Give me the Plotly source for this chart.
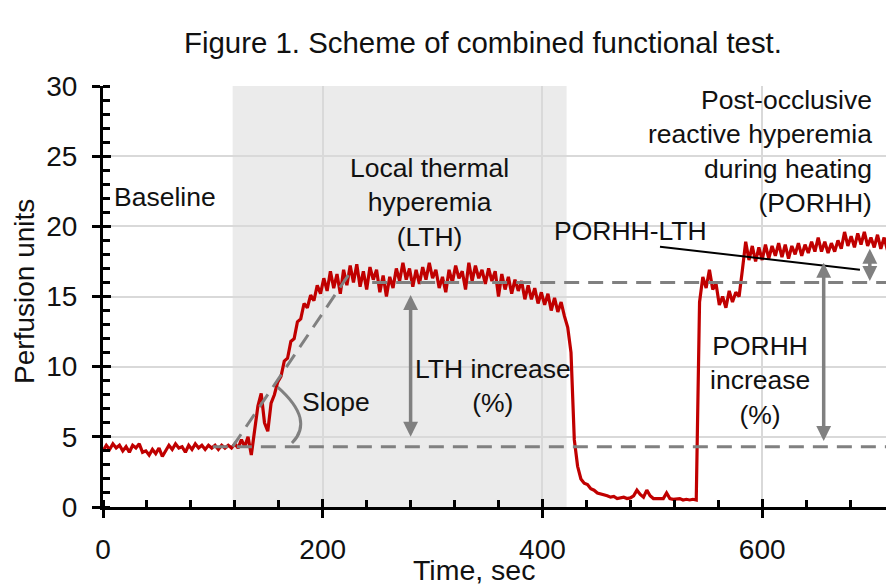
import plotly.graph_objects as go

# perfusion trace (3 s steps)
time_s = list(range(0, 723, 3))
perfusion = [
    # baseline 0-117 s
    4.0, 4.4, 4.1, 4.5, 4.2, 4.4, 4.0, 4.3, 3.9, 4.4,
    4.2, 4.5, 3.9, 4.0, 3.7, 4.1, 3.8, 4.2, 3.6, 4.0,
    4.4, 4.1, 4.5, 4.2, 4.3, 3.9, 4.4, 4.1, 4.5, 4.2,
    4.4, 4.1, 4.4, 4.2, 4.4, 4.1, 4.4, 4.2, 4.4, 4.2,
    # heating onset 120-210 s
    4.5, 4.2, 4.8, 4.3, 5.0, 3.7, 5.4, 7.2, 8.1, 6.0,
    5.4, 7.4, 8.0, 8.9, 9.3, 10.4, 10.6, 11.8, 12.0, 13.2,
    13.4, 14.5, 14.2, 15.1, 14.7, 15.8, 15.2, 16.3, 15.4, 16.8,
    15.6,
    # LTH plateau 213-420 s
    16.6, 15.2, 16.9, 15.8, 17.2, 16.0, 17.3, 15.7, 16.8, 15.5,
    17.1, 16.2, 16.9, 15.3, 16.5, 15.0, 16.4, 15.6, 17.0, 16.1,
    17.4, 16.2, 17.0, 15.7, 16.9, 15.9, 17.1, 16.2, 17.4, 16.3,
    16.9, 15.6, 16.4, 15.3, 16.9, 16.0, 17.2, 16.3, 16.8, 15.5,
    17.4, 16.1, 17.2, 16.3, 16.9, 15.9, 17.0, 16.1, 16.8, 15.0,
    16.6, 15.5, 16.4, 15.2, 16.2, 15.4, 16.1, 14.8, 15.8, 14.8,
    15.6, 14.5, 15.3, 14.4, 15.2, 14.0, 14.9, 13.9, 14.6, 13.6,
    # occlusion 423-540 s
    12.8, 11.0, 4.8, 2.9, 2.0, 1.7, 1.6, 1.3, 1.2, 1.0,
    0.95, 0.85, 0.8, 0.7, 0.75, 0.6, 0.65, 0.7, 0.6, 0.65,
    0.8, 1.2, 0.9, 0.7, 1.2, 0.8, 0.6, 0.6, 0.65, 0.6,
    1.0, 0.6, 0.55, 0.55, 0.6, 0.5, 0.55, 0.5, 0.55, 0.5,
    # PORHH 543-720 s
    14.6, 16.4, 15.6, 16.9, 15.5, 15.9, 14.4, 15.0, 14.2, 15.4,
    14.6, 15.3, 15.0, 16.9, 18.9, 17.6, 18.6, 17.5, 18.5, 17.6,
    18.7, 17.7, 18.6, 17.9, 18.8, 17.8, 18.7, 17.7, 18.6, 18.0,
    18.8, 17.9, 18.7, 18.1, 18.9, 18.2, 19.2, 18.2, 18.9, 18.1,
    18.8, 18.2, 19.0, 18.4, 19.6, 18.6, 19.3, 18.5, 19.5, 18.7,
    19.6, 18.6, 19.2, 18.5, 19.4, 18.4, 19.2, 18.3, 18.9, 18.0,
]

# phase window and reference levels
lth_window = [118, 422]
baseline_level = 4.3
lth_level = 16.0
slope_line = ([118, 224], [4.3, 16.6])

x_ticks = [0, 200, 400, 600]
y_ticks = [0, 5, 10, 15, 20, 25, 30]

GRAY = "#808080"
RED = "#C00000"
INK = "#111111"
FONT = "Arial, Liberation Sans, sans-serif"

fig = go.Figure()
fig.add_trace(go.Scatter(
    x=time_s, y=perfusion, mode="lines",
    line=dict(color=RED, width=3.2), showlegend=False, hoverinfo="skip",
))
# dummy trace so the overlay axes (inner half of major ticks) get drawn
fig.add_trace(go.Scatter(x=[None], y=[None], xaxis="x2", yaxis="y2",
                         showlegend=False, hoverinfo="skip"))

dash = "15px,9px"
fig.add_shape(type="rect", x0=lth_window[0], x1=lth_window[1], y0=0, y1=30,
              fillcolor="#ebebeb", line_width=0, layer="below")
fig.add_shape(type="line", x0=100, x1=720, y0=baseline_level, y1=baseline_level,
              line=dict(color=GRAY, width=3, dash=dash))
fig.add_shape(type="line", x0=245, x1=720, y0=lth_level, y1=lth_level,
              line=dict(color=GRAY, width=3, dash=dash))
fig.add_shape(type="line", x0=slope_line[0][0], x1=slope_line[0][1],
              y0=slope_line[1][0], y1=slope_line[1][1],
              line=dict(color=GRAY, width=3, dash=dash))
# angle arc for "Slope"
fig.add_shape(type="path", path="M 159,8.55 Q 193,6.2 172,4.56",
              line=dict(color=GRAY, width=3))
# leader line for PORHH-LTH
fig.add_shape(type="line", x0=507, x1=689, y0=18.55, y1=16.9,
              line=dict(color="black", width=2))

# double-headed arrows
for ax_x, y_lo, y_hi in [(280, 4.9, 15.1), (656, 4.6, 17.4), (698, 16.0, 18.4)]:
    fig.add_annotation(x=ax_x, y=y_hi, ax=ax_x, ay=y_lo, axref="x", ayref="y",
                       text="", showarrow=True, arrowside="end+start",
                       arrowhead=2, startarrowhead=2, arrowsize=0.85, startarrowsize=0.85,
                       arrowwidth=3.5, arrowcolor=GRAY)

labels = [
    ("Baseline", 8, 22.1, "left"),
    ("Local thermal<br>hyperemia<br>(LTH)", 297, 21.7, "center"),
    ("Slope", 179, 7.5, "left"),
    ("LTH increase<br>(%)", 355, 8.6, "center"),
    ("Post-occlusive<br>reactive hyperemia<br>during heating<br>(PORHH)", 701.5, 25.3, "right"),
    ("PORHH-LTH", 409, 19.7, "left"),
    ("PORHH<br>increase<br>(%)", 598, 9.05, "center"),
]
for txt, lx, ly, anchor in labels:
    fig.add_annotation(x=lx, y=ly, text=txt, showarrow=False, xanchor=anchor,
                       yanchor="middle", align=anchor,
                       font=dict(size=26.5, color=INK, family=FONT))

# title and axis titles
fig.add_annotation(x=0.481, xref="paper", y=1.1045, yref="paper",
                   text="Figure 1. Scheme of combined functional test.", showarrow=False,
                   xanchor="center", yanchor="middle", font=dict(size=29.4, color=INK))
fig.add_annotation(x=338, y=-0.149, yref="paper", text="Time, sec", showarrow=False,
                   xanchor="center", yanchor="middle", font=dict(size=28.5, color=INK))
fig.add_annotation(x=-0.1, xref="paper", y=0.513, yref="paper", text="Perfusion units",
                   textangle=-90, showarrow=False, xanchor="center", yanchor="middle",
                   font=dict(size=28, color=INK))

axis_common = dict(showline=True, linecolor="black", linewidth=3,
                   tickcolor="black", tickwidth=3, zeroline=False, automargin=False,
                   tickfont=dict(size=28, color=INK, family=FONT))

# the page body adds an 8px offset, so margins are set 8px smaller on top/left
fig.update_layout(
    width=894, height=587,
    margin=dict(l=95, r=8, t=78, b=88),
    paper_bgcolor="white", plot_bgcolor="white",
    font=dict(family=FONT, color=INK),
    xaxis=dict(range=[0, 720], tickvals=x_ticks, ticks="outside", ticklen=8,
               showgrid=True, gridcolor="#d9d9d9", gridwidth=2,
               ticklabelstandoff=7,
               minor=dict(dtick=40, ticks="inside", ticklen=7, tickwidth=2.5,
                          tickcolor="black", showgrid=False),
               **axis_common),
    yaxis=dict(range=[0, 30], tickvals=y_ticks, ticks="outside", ticklen=8,
               showgrid=True, gridcolor="#d9d9d9", gridwidth=2,
               ticklabelstandoff=9,
               minor=dict(dtick=1, ticks="inside", ticklen=7, tickwidth=2.5,
                          tickcolor="black", showgrid=False),
               **axis_common),
    xaxis2=dict(overlaying="x", anchor="y2", range=[0, 720], tickvals=x_ticks,
                ticks="inside", ticklen=8, tickwidth=3, tickcolor="black", automargin=False,
                showticklabels=False, showgrid=False, showline=False, zeroline=False),
    yaxis2=dict(overlaying="y", anchor="x2", side="left", range=[0, 30], tickvals=y_ticks,
                ticks="inside", ticklen=8, tickwidth=3, tickcolor="black", automargin=False,
                showticklabels=False, showgrid=False, showline=False, zeroline=False),
)

fig.write_html("out.html")
